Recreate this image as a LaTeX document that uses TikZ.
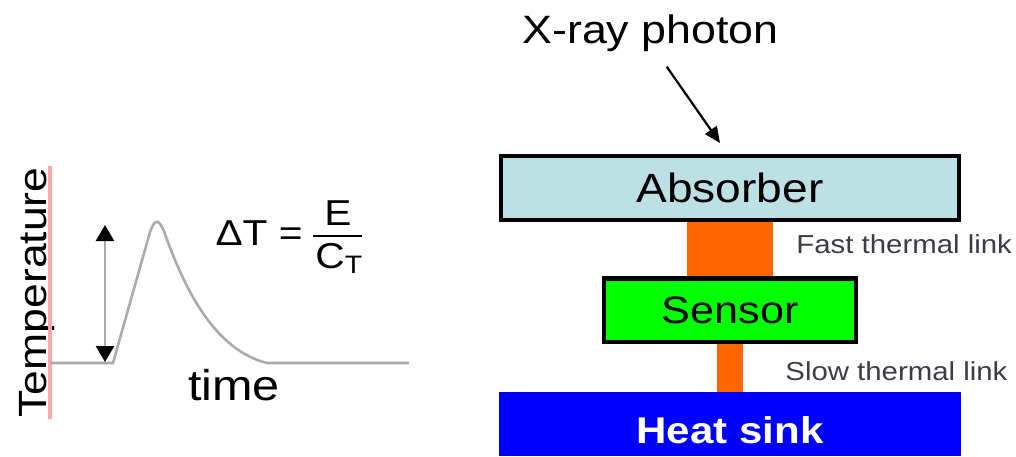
\documentclass[tikz,border=0pt]{standalone}
\usepackage{fontspec}
\setmainfont{Liberation Sans}[FakeStretch=1.13]
\usetikzlibrary{calc, positioning, arrows.meta, backgrounds}
\definecolor{absorberFill}{HTML}{BCE0E3}
\definecolor{sensorFill}{HTML}{00FF00}
\definecolor{sinkFill}{HTML}{0000FF}
\definecolor{linkOrange}{HTML}{FF6600}
\definecolor{axisPink}{HTML}{FFA6A6}
\definecolor{curveGray}{HTML}{ABABAB}
\definecolor{labelGray}{HTML}{3C3C48}
\tikzset{
  layerbox/.style={draw=black, line width=2.2pt, inner sep=0pt},
  linklabel/.style={anchor=base west, inner sep=0pt, text=labelGray, font=\fontsize{13}{15}\selectfont},
  curveline/.style={draw=curveGray, line width=1.3pt},
  bigtip/.tip={Triangle[color=black, length=8pt, width=9pt]},
}

\begin{document}
\begin{tikzpicture}[x=0.5pt, y=-0.5pt]
  \useasboundingbox (0,0) rectangle (1016,456);

  % detector stack
  \node[layerbox, fill=absorberFill, minimum width=228.9pt, minimum height=31.9pt,
        font=\fontsize{20.4}{24}\selectfont] (absorber) at (730,188) {Absorber};
  \node[layerbox, fill=sensorFill, minimum width=126pt, minimum height=31.7pt,
        font=\fontsize{19.1}{23}\selectfont] (sensor) at (730,310.3) {Sensor};
  \node[fill=sinkFill, inner sep=0pt, minimum width=230.9pt, minimum height=32pt,
        text=white, text height=19pt, text depth=0pt,
        font=\fontsize{18.6}{22}\selectfont\bfseries] (heatsink) at (730,424) {Heat sink};
  \begin{scope}[on background layer]
    \fill[linkOrange] ($(absorber.south)+(-42.7,0)$) rectangle ($(sensor.north)+(42.7,0)$);
    \fill[linkOrange] ($(sensor.south)+(-12.8,0)$) rectangle ($(heatsink.north)+(12.8,0)$);
  \end{scope}
  \node[linklabel] (fastlink) at (796,253) {Fast thermal link};
  \node[linklabel] (slowlink) at (785,380) {Slow thermal link};

  \node[anchor=base west, inner sep=0pt, font=\fontsize{19.8}{24}\selectfont] (photon) at (522,43) {X-ray photon};
  \coordinate (photonTail) at (666.7,66.7);
  \coordinate (photonHit) at (720,143);
  \draw[line width=1.1pt, -{Triangle[length=8pt, width=7pt]}] (photonTail) -- (photonHit);

  % temperature pulse
  \node[rotate=90, anchor=base, font=\fontsize{19.7}{24}\selectfont] (templabel) at (46,292.5) {Temperature};
  \draw[draw=axisPink, line width=2pt] (49.5,419) -- (49.5,166);
  \draw[curveline] (50,363) -- (113,363) -- (150,232)
    .. controls (155,218) and (159,218) .. (165,234)
    .. controls (185,290) and (215,350) .. (267,363) -- (409,363);
  \coordinate (riseTop) at (105,225);
  \coordinate (riseBot) at (105,362);
  \draw[curveline, bigtip-bigtip] (riseTop) -- (riseBot);
  \node[anchor=base, font=\fontsize{21.5}{25}\selectfont] (timelabel) at (234,400) {time};

  \node[anchor=base east, inner sep=0pt, font=\fontsize{18}{22}\selectfont] (deltaT) at (303,245) {ΔT =};
  \node[anchor=base, inner sep=0pt, font=\fontsize{18}{22}\selectfont] (energy) at (338,225) {E};
  \node[anchor=base west, inner sep=0pt, font=\fontsize{18}{22}\selectfont] (heatcap) at (315,268) {C\textsubscript{T}};
  \draw[line width=1.2pt] (313,236) -- (362,236);
\end{tikzpicture}
\end{document}
